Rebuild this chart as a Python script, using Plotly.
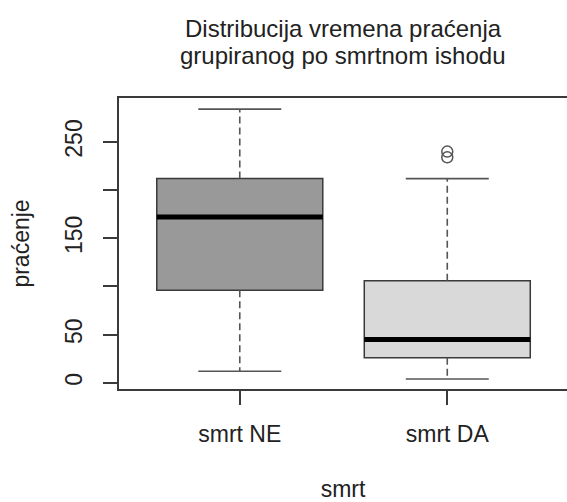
import plotly.graph_objects as go

# ---- data ----
categories = ["smrt NE", "smrt DA"]
lower_whisker = [12, 4]
q1_vals = [96, 26]
median_vals = [172, 45]
q3_vals = [212, 106]
upper_whisker = [284, 212]
outliers_da = [234, 240]
fill_colors = ["#999999", "#d9d9d9"]
y_tickvals = [0, 50, 100, 150, 200, 250]
y_ticktext = ["0", "50", "", "150", "", "250"]

positions = [i + 1 for i in range(len(categories))]
LINE = "#3a3a3a"
TXT = "#222222"
FONT = "Liberation Sans, Arial, sans-serif"
HALF_BOX = 0.4
HALF_CAP = 0.2

fig = go.Figure()

for i, pos in enumerate(positions):
    fig.add_trace(go.Box(
        x=[pos], q1=[q1_vals[i]], median=[median_vals[i]], q3=[q3_vals[i]],
        lowerfence=[q1_vals[i]], upperfence=[q3_vals[i]],
        width=HALF_BOX * 2, whiskerwidth=0, boxpoints=False,
        fillcolor=fill_colors[i], line=dict(color=LINE, width=1.5),
        showlegend=False, hoverinfo="skip"))
    # dashed whiskers
    fig.add_trace(go.Scatter(
        x=[pos, pos, None, pos, pos],
        y=[q3_vals[i], upper_whisker[i], None, q1_vals[i], lower_whisker[i]],
        mode="lines", line=dict(color="#555555", width=1.6, dash="7px,4px"),
        showlegend=False, hoverinfo="skip"))
    # caps
    fig.add_trace(go.Scatter(
        x=[pos - HALF_CAP, pos + HALF_CAP, None, pos - HALF_CAP, pos + HALF_CAP],
        y=[upper_whisker[i], upper_whisker[i], None, lower_whisker[i], lower_whisker[i]],
        mode="lines", line=dict(color="#555555", width=1.7),
        showlegend=False, hoverinfo="skip"))
    # thick median
    fig.add_trace(go.Scatter(
        x=[pos - HALF_BOX, pos + HALF_BOX],
        y=[median_vals[i], median_vals[i]],
        mode="lines", line=dict(color="#000000", width=5),
        showlegend=False, hoverinfo="skip"))

# outliers of the second group
fig.add_trace(go.Scatter(
    x=[positions[1]] * len(outliers_da), y=outliers_da, mode="markers",
    marker=dict(symbol="circle-open", size=11, color="#555555",
                line=dict(width=1.5, color="#555555")),
    showlegend=False, hoverinfo="skip"))

fig.update_layout(
    width=567, height=502,
    margin=dict(l=119, r=0, t=98, b=113, pad=0),
    paper_bgcolor="white", plot_bgcolor="white",
    font=dict(family=FONT, size=23, color=TXT),
    annotations=[
        dict(text="Distribucija vremena praćenja", xref="paper", yref="paper",
             x=0.5, y=1, yshift=70, showarrow=False, xanchor="center",
             yanchor="middle", font=dict(size=24, color=TXT)),
        dict(text="grupiranog po smrtnom ishodu", xref="paper", yref="paper",
             x=0.5, y=1, yshift=43, showarrow=False, xanchor="center",
             yanchor="middle", font=dict(size=24, color=TXT)),
    ],
)

fig.update_xaxes(
    range=[0.418, 2.577], tickmode="array", tickvals=positions, ticktext=categories,
    showline=True, mirror=True, linecolor=LINE, linewidth=1.5,
    ticks="outside", ticklen=14, tickwidth=1.5, tickcolor=LINE,
    showgrid=False, zeroline=False, ticklabelstandoff=10, automargin=False,
    title=dict(text="smrt", standoff=42, font=dict(size=23, color=TXT)),
)
fig.update_yaxes(
    range=[-6.4, 295.6], tickmode="array", tickvals=y_tickvals, ticktext=y_ticktext,
    tickangle=-90,
    showline=True, mirror=False, linecolor=LINE, linewidth=1.5,
    ticks="outside", ticklen=14, tickwidth=1.5, tickcolor=LINE,
    showgrid=False, zeroline=False, ticklabelstandoff=12, automargin=False,
    title=dict(text="praćenje", standoff=25, font=dict(size=23, color=TXT)),
)

fig.write_html("out.html")
